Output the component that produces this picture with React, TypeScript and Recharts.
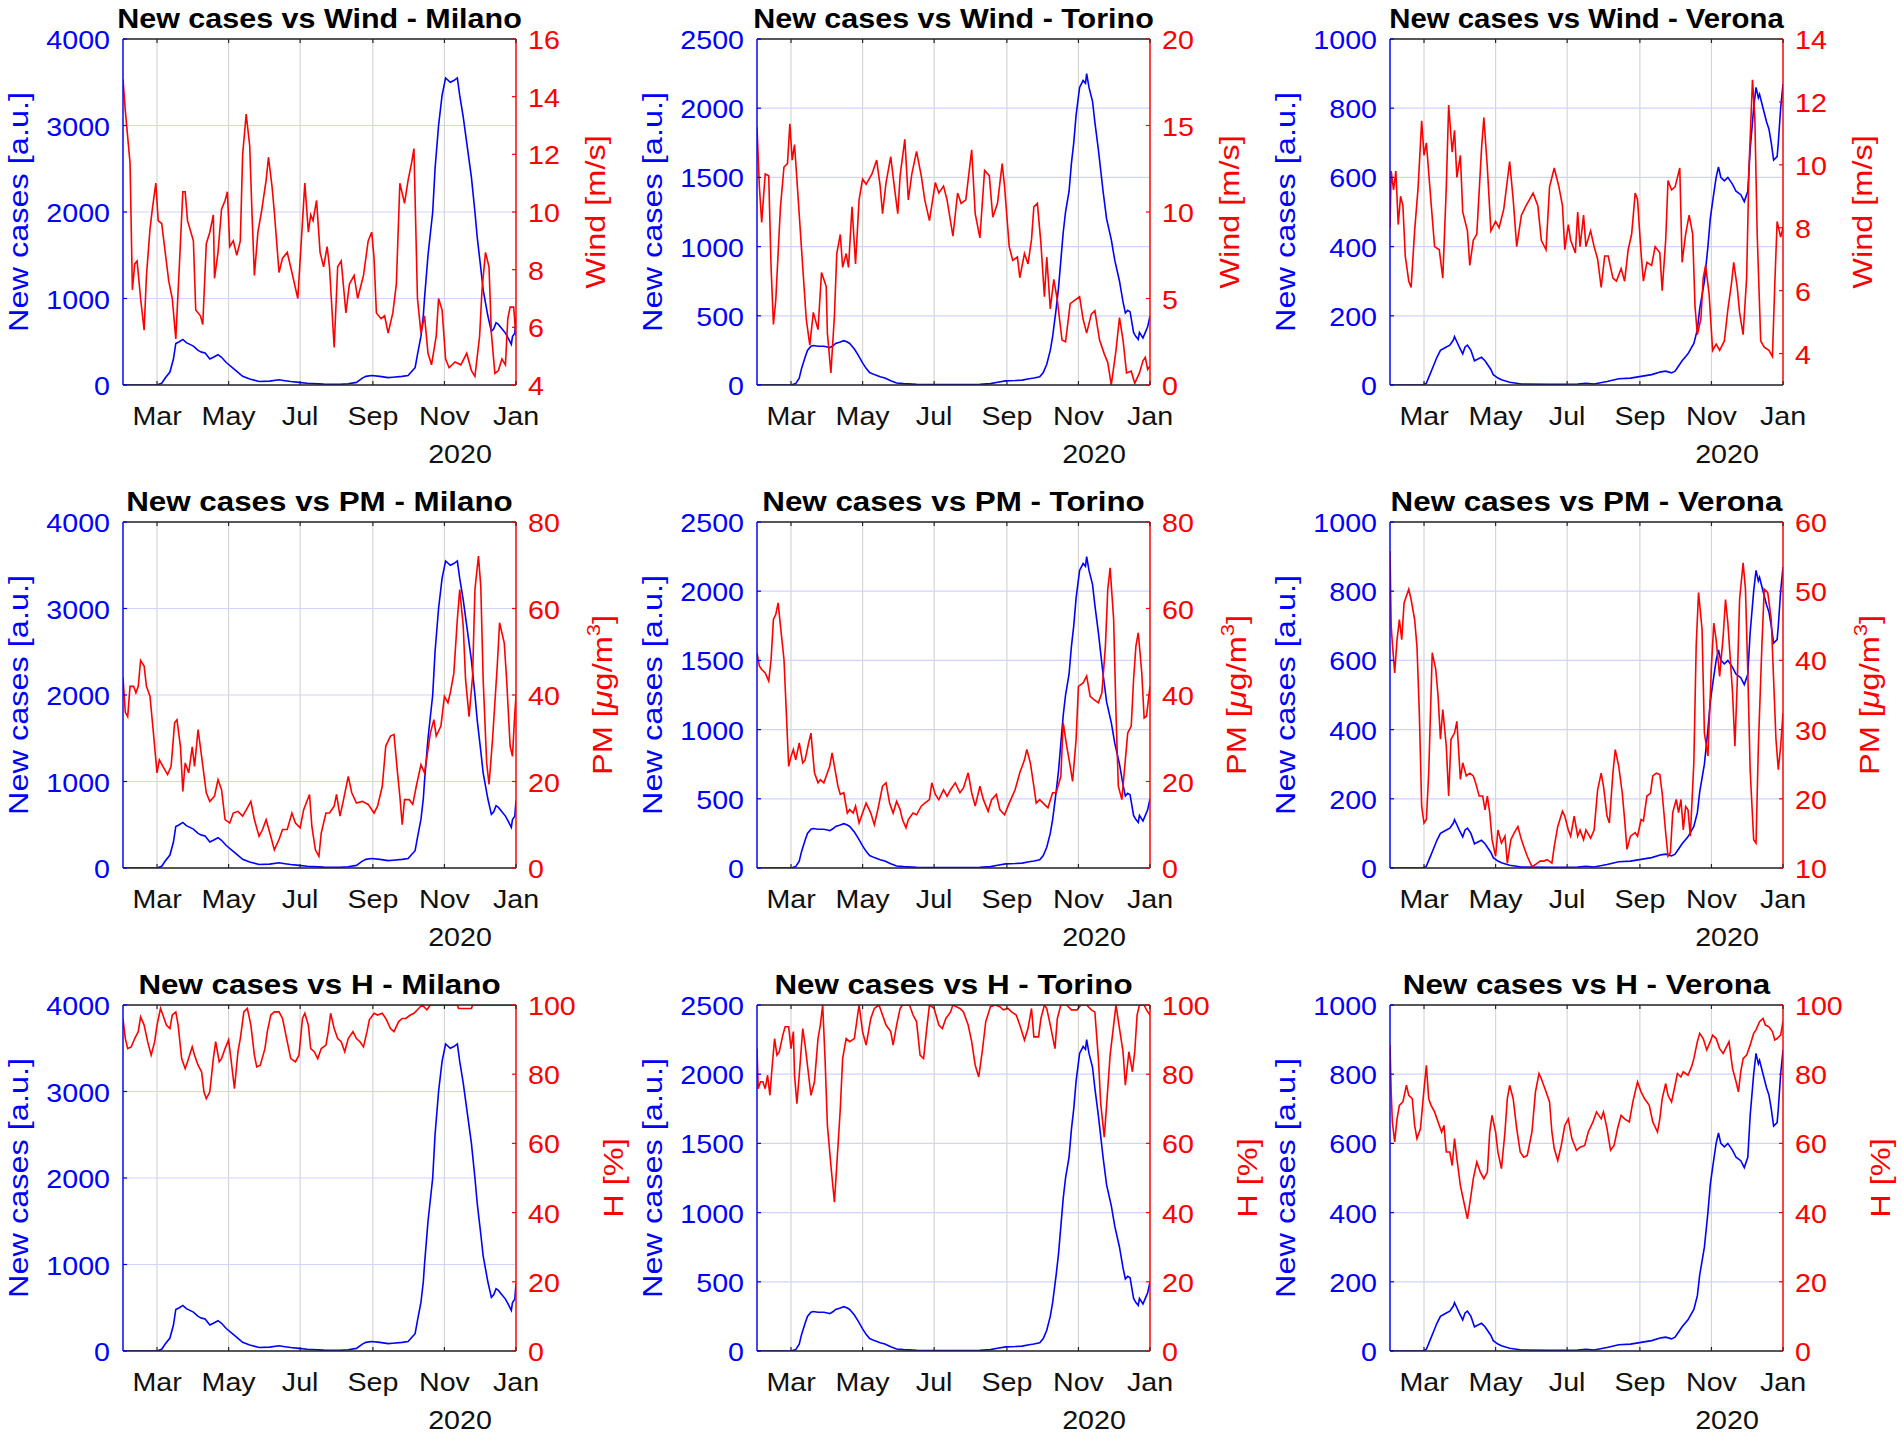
import React from 'react';
import { LineChart, Line, XAxis, YAxis, CartesianGrid } from 'recharts';

type Pair = [number, number];

const FONT = '"Liberation Sans", Arial, Helvetica, sans-serif';
const BLUE = '#0000ff';
const RED = '#ff0000';
const AX = '#262626';
const GRID_GRAY = '#d6d6d6';
const GRID_BLUE = '#d2d2ff';

// x axis: day offset from 1 Feb 2020
const monthTicks = [29, 90, 151, 213, 274, 335];
const monthLabels = ['Mar', 'May', 'Jul', 'Sep', 'Nov', 'Jan'];
const yearLabel = '2020';

// ---------- New cases (same for every row of a city) ----------
const casesMilano: Pair[] = [[0,0],[28,0],[30,5],[33,20],[36,80],[40,150],[43,300],[45,480],[48,500],[51,527],[54,490],[57,470],[60,450],[64,400],[67,380],[70,370],[74,300],[77,320],[81,350],[84,320],[88,260],[95,180],[102,100],[108,70],[116,40],[125,45],[133,60],[138,50],[143,40],[150,30],[157,20],[171,10],[185,8],[192,15],[199,30],[204,80],[207,100],[212,110],[219,100],[226,85],[230,90],[238,100],[243,110],[247,170],[249,200],[251,350],[254,565],[256,800],[257,1000],[260,1500],[264,2000],[266,2500],[269,3000],[272,3350],[275,3550],[279,3500],[282,3520],[285,3550],[287,3350],[290,3100],[292,2900],[297,2400],[300,2000],[302,1700],[305,1350],[307,1100],[309,950],[311,800],[314,620],[316,650],[318,720],[320,700],[323,650],[326,600],[328,550],[331,470],[332,560],[334,600],[335,780]];
const casesTorino: Pair[] = [[0,0],[28,0],[31,5],[33,10],[36,50],[38,120],[41,200],[43,250],[46,280],[48,285],[52,280],[57,280],[60,275],[62,270],[65,285],[67,300],[71,310],[74,320],[77,310],[79,300],[83,260],[86,220],[90,160],[93,120],[96,90],[100,75],[105,60],[109,50],[114,30],[119,15],[125,10],[136,5],[171,3],[190,5],[199,10],[205,20],[212,30],[220,32],[226,35],[232,45],[236,50],[241,60],[244,90],[247,150],[250,250],[252,350],[255,550],[257,700],[259,900],[261,1100],[263,1250],[266,1400],[268,1600],[270,1750],[272,1950],[275,2150],[278,2200],[280,2180],[281,2250],[283,2150],[286,2050],[288,1900],[291,1700],[295,1400],[298,1200],[302,1050],[305,900],[309,750],[312,600],[314,520],[316,540],[318,530],[321,380],[323,350],[325,330],[326,380],[329,340],[331,380],[333,420],[335,500]];
const casesVerona: Pair[] = [[0,0],[28,0],[31,5],[34,30],[37,55],[40,80],[43,100],[48,110],[51,115],[54,130],[55,140],[57,125],[59,110],[62,90],[64,110],[66,115],[69,100],[72,70],[75,75],[78,80],[81,70],[83,60],[86,45],[88,30],[92,20],[95,15],[102,8],[112,3],[136,2],[160,3],[167,5],[174,3],[185,10],[195,18],[205,20],[214,25],[223,30],[231,38],[235,40],[240,35],[243,40],[246,55],[249,70],[254,90],[259,120],[262,160],[264,220],[266,260],[268,300],[271,400],[273,480],[275,530],[278,600],[280,630],[282,600],[285,590],[288,600],[292,580],[295,560],[299,550],[302,530],[305,560],[307,680],[310,800],[312,860],[314,830],[315,840],[318,800],[321,760],[323,740],[325,700],[327,650],[330,660],[331,700],[333,800],[335,870]];

// ---------- Wind [m/s] ----------
const windMilano: Pair[] = [[0,14.6],[2,13.5],[6,11.7],[8,7.3],[10,8.2],[12,8.3],[15,7.0],[18,5.9],[20,7.8],[23,9.4],[25,10.1],[28,11.0],[30,9.7],[33,9.6],[36,8.6],[39,7.6],[42,7.0],[45,5.6],[48,8.1],[51,10.7],[53,10.7],[55,9.7],[60,9.0],[62,6.6],[66,6.4],[68,6.1],[71,8.9],[74,9.3],[77,9.9],[78,7.7],[81,8.6],[84,10.1],[87,10.4],[89,10.7],[91,8.8],[94,9.0],[97,8.5],[100,9.0],[102,12.0],[105,13.4],[108,12.3],[110,9.9],[112,7.8],[115,9.3],[118,10.0],[122,11.1],[124,11.9],[127,10.9],[129,10.0],[133,7.9],[136,8.4],[140,8.6],[144,7.9],[149,7.0],[152,9.0],[155,11.0],[158,9.3],[160,9.9],[162,9.7],[165,10.4],[168,8.6],[171,8.1],[174,8.8],[176,8.1],[180,5.3],[183,8.1],[186,8.3],[190,6.5],[193,7.5],[197,7.8],[200,7.0],[205,7.8],[209,9.0],[212,9.3],[214,8.4],[216,6.5],[220,6.3],[223,6.4],[226,5.8],[230,6.5],[233,7.5],[236,11.0],[240,10.3],[243,11.1],[246,11.7],[248,12.2],[251,7.0],[254,5.8],[257,6.4],[260,5.1],[263,4.7],[267,5.7],[269,7.0],[272,6.6],[275,4.9],[278,4.6],[283,4.8],[288,4.7],[293,5.1],[297,4.5],[300,4.3],[304,5.7],[306,7.3],[309,8.6],[312,8.1],[314,5.8],[317,4.4],[320,4.5],[323,4.9],[326,4.7],[328,6.3],[330,6.7],[333,6.7],[335,5.7]];
const windTorino: Pair[] = [[0,14.9],[2,11.5],[4,9.4],[7,12.2],[10,12.1],[12,6.8],[14,3.5],[16,4.9],[20,10.3],[23,12.6],[26,12.8],[28,15.1],[30,13.0],[32,13.9],[34,11.9],[39,6.8],[42,3.8],[45,2.3],[48,4.2],[52,3.2],[55,6.5],[59,5.7],[60,3.0],[63,0.7],[66,4.0],[68,7.6],[71,8.7],[73,6.8],[76,7.6],[78,6.8],[81,10.3],[84,7.0],[87,10.7],[90,11.9],[93,11.6],[98,12.2],[102,13.0],[105,11.5],[107,9.9],[110,11.7],[114,13.2],[117,11.5],[120,9.9],[122,12.1],[126,14.2],[129,10.7],[132,12.2],[136,13.5],[140,12.1],[143,10.7],[147,9.5],[152,11.7],[155,11.1],[159,11.5],[162,10.7],[167,8.6],[171,11.1],[174,10.5],[178,10.7],[183,13.6],[186,9.9],[190,8.5],[194,12.4],[198,12.1],[201,9.7],[205,10.5],[209,12.8],[211,11.5],[215,8.0],[218,7.2],[222,7.4],[224,6.2],[228,7.6],[231,7.0],[234,8.4],[236,10.3],[239,10.5],[242,8.2],[245,5.1],[247,7.4],[250,4.4],[253,6.1],[256,4.9],[260,2.6],[263,2.5],[267,4.7],[271,4.9],[275,5.1],[278,3.8],[281,3.0],[285,4.1],[288,4.3],[292,2.6],[296,1.8],[299,1.3],[302,0],[306,2.0],[309,3.9],[312,2.6],[315,0.7],[319,0.8],[322,0.1],[326,0.7],[329,1.4],[331,1.6],[333,0.9],[335,1.1]];
const windVerona: Pair[] = [[0,8.0],[1,9.8],[3,9.2],[5,9.8],[7,8.1],[9,9.0],[11,8.7],[13,7.1],[16,6.3],[18,6.1],[21,7.9],[24,9.3],[27,11.4],[29,10.3],[31,10.7],[35,8.8],[38,7.4],[42,7.3],[45,6.4],[48,9.3],[50,11.9],[53,10.4],[55,11.1],[57,9.6],[60,10.3],[62,8.5],[66,7.9],[68,6.8],[71,7.6],[74,7.8],[78,10.5],[80,11.5],[83,9.9],[86,7.9],[90,8.2],[93,8.0],[97,8.6],[99,9.2],[102,10.1],[105,8.9],[108,7.4],[112,8.4],[116,8.7],[119,8.9],[122,9.1],[126,8.7],[129,7.6],[133,7.3],[136,9.3],[140,9.9],[144,9.3],[147,8.7],[149,7.3],[152,8.1],[154,7.6],[158,7.2],[160,8.5],[162,7.4],[165,8.4],[167,7.4],[171,7.9],[174,7.4],[177,7.0],[180,6.1],[183,7.1],[186,7.1],[190,6.4],[193,6.3],[197,6.7],[200,6.3],[203,7.3],[206,7.8],[209,9.1],[211,8.9],[214,7.2],[216,6.3],[219,6.9],[223,6.8],[226,7.4],[230,7.2],[232,6.0],[235,7.6],[237,9.5],[240,9.2],[243,9.3],[247,9.9],[249,6.9],[252,7.8],[255,8.4],[258,7.8],[260,5.5],[262,4.6],[265,5.1],[267,6.4],[269,6.8],[272,5.9],[275,4.1],[278,4.3],[281,4.1],[285,4.4],[288,5.4],[291,6.2],[293,6.9],[296,6.1],[298,5.3],[301,4.6],[304,6.4],[306,9.9],[309,12.7],[311,11.5],[313,7.8],[316,4.4],[319,4.2],[323,4.1],[326,3.9],[328,6.2],[330,8.2],[333,7.7],[335,8.0]];

// ---------- PM [ug/m3] ----------
const pmMilano: Pair[] = [[0,44],[2,36],[4,35],[6,42],[9,42],[11,40.5],[13,42],[15,48],[18,46.7],[20,42],[23,39.7],[26,31],[29,22],[31,25],[34,23.5],[38,21.6],[41,23.5],[44,33.6],[46,34.3],[49,28],[51,17.7],[53,24.3],[56,22],[59,28],[61,23.5],[64,32],[67,25.8],[71,17.4],[74,15.4],[78,16.6],[81,20.4],[84,18.1],[87,11.2],[91,10.4],[94,12.7],[98,13.1],[102,12],[106,13.9],[109,15.4],[112,11.2],[116,7.3],[119,8.9],[122,11.2],[126,7.3],[129,4.2],[133,6.6],[136,8.9],[140,8.9],[144,12.7],[147,10.4],[151,9.3],[154,13.5],[159,17],[161,9.6],[164,4.2],[167,2.7],[169,8.1],[173,12.7],[176,12.7],[180,14.3],[182,17],[185,12],[188,15.8],[192,21.2],[195,17.4],[199,15],[204,15.4],[209,14.7],[214,12.7],[217,14.3],[221,18.9],[224,28.2],[228,30.5],[231,30.9],[234,22],[236,16.6],[238,10],[240,15.8],[244,15.8],[247,14.7],[250,18.9],[254,23.9],[257,22],[260,27.4],[262,31.2],[265,34.3],[267,30.5],[271,32.8],[274,39.7],[277,38.2],[279,40.5],[282,45],[285,57.5],[287,64.4],[290,56],[292,43.6],[295,35],[298,44.4],[300,64.4],[303,72.1],[305,65],[307,43.6],[310,24.3],[312,19.3],[315,29.7],[319,46.7],[321,56.7],[325,52],[327,43.6],[330,28.2],[332,25.8],[334,35.9],[335,39.7]];
const pmTorino: Pair[] = [[0,49.8],[2,46.7],[4,45.9],[7,45.1],[10,43.2],[12,48.2],[14,57.5],[16,58.6],[18,61.3],[20,56],[23,48.2],[25,35.9],[27,23.5],[29,25.8],[31,27.4],[33,25],[36,28.9],[39,24.3],[41,25],[44,28.9],[46,31.2],[49,22],[52,19.7],[54,20.4],[57,19.7],[60,22],[62,23.5],[64,26.6],[67,22],[69,18.9],[71,17],[74,17.4],[77,12.7],[79,13.5],[82,12.7],[84,14.3],[87,10.4],[90,12.7],[93,15],[97,12.7],[100,10],[103,13.5],[107,18.9],[110,19.7],[113,15],[116,12.7],[119,15.4],[122,13.5],[124,11.2],[127,9.3],[129,11.2],[133,12.7],[136,12.3],[140,14.3],[143,15],[147,15.8],[149,19.7],[152,17],[155,15.8],[159,18.1],[162,16.6],[165,18.1],[169,19.7],[173,17.4],[176,18.5],[180,22],[183,17.4],[186,14.3],[190,18.9],[193,15.8],[197,13.1],[200,15.8],[204,17],[207,13.5],[211,12.3],[215,15],[220,18.1],[224,22],[228,25],[230,27.4],[233,24.3],[236,18.9],[238,15],[241,15.8],[245,14.7],[248,13.9],[252,17.4],[255,17.4],[259,21.2],[261,33.6],[264,28.2],[267,23.5],[269,20],[272,29.7],[274,42],[278,42.8],[281,44.4],[284,39.7],[287,39],[291,38.2],[294,40.5],[297,51.3],[299,64.4],[301,69.4],[304,57.5],[306,35.9],[308,18.9],[311,15.8],[313,22],[316,31.2],[319,32.8],[321,43.6],[323,51.3],[325,54.4],[328,45.1],[330,34.7],[332,35.1],[335,42]];
const pmVerona: Pair[] = [[0,55.8],[1,45],[2,42.5],[4,38.2],[6,43],[8,45.9],[10,43],[12,48.3],[14,49.3],[16,50.3],[18,48.8],[21,45.9],[23,42],[25,32.4],[27,18.9],[29,16.5],[31,17],[33,23.7],[36,41.1],[39,38.7],[41,34.8],[43,28.6],[45,32.9],[48,27.6],[50,20.4],[52,28.6],[55,29.5],[57,31.2],[60,22.8],[62,25.2],[65,23.3],[68,23.7],[71,23.3],[73,22.3],[76,20.4],[79,20.4],[81,18.4],[83,20.4],[85,18],[87,14.1],[90,11.7],[92,15.5],[95,13.6],[98,14.6],[100,10.7],[103,14.1],[106,15.1],[109,16],[112,14.1],[114,13.1],[117,11.7],[121,10.2],[124,10.5],[128,11],[131,11],[134,11.2],[138,10.7],[140,13.1],[143,16],[147,18.2],[149,17.5],[152,15.5],[154,14.6],[157,17.5],[160,14.6],[162,15.5],[165,14.1],[167,15.5],[171,14.3],[174,15.5],[177,21.3],[180,23.7],[182,21.8],[185,17.5],[187,16.5],[190,23.7],[192,27.1],[195,24.7],[198,20.8],[200,17],[202,12.7],[205,14.6],[209,15.1],[211,14.6],[214,17],[216,16.8],[219,20.4],[222,20.8],[224,23.3],[227,23.7],[230,23.5],[232,20.8],[235,15.1],[237,11.7],[239,12.2],[241,18],[244,19.9],[246,18],[248,19.9],[250,15.5],[252,18.9],[254,18.4],[256,14.6],[259,25.2],[261,42.1],[263,49.8],[266,44.5],[268,29.5],[271,26.2],[274,39.2],[276,45.4],[278,43],[281,37.7],[284,43.5],[286,48.8],[288,45.4],[292,35.3],[294,27.6],[296,36.8],[298,48.8],[301,54.1],[303,50.3],[305,38.2],[307,24.2],[310,14.1],[312,13.6],[314,27.6],[317,42.1],[319,50.3],[322,49.8],[325,45.9],[327,37.2],[329,28.6],[331,24.2],[333,27.6],[335,32.4]];

// ---------- H [%] ----------
const hMilano: Pair[] = [[0,96],[2,90.3],[4,87.4],[7,87.9],[10,90.3],[13,92.3],[15,96.6],[18,94.2],[21,89.4],[24,85.5],[27,89.4],[29,94.2],[32,99],[34,97.1],[37,94.2],[40,93.2],[42,97.1],[45,98],[47,94.2],[50,84.5],[53,81.6],[55,83.6],[59,87.9],[61,85.5],[64,82.6],[67,80.7],[69,74.9],[71,72.9],[74,74.9],[77,84.5],[79,89.4],[82,83.6],[84,84.5],[87,87.4],[90,89.9],[92,84.5],[95,75.8],[98,86.5],[100,90.3],[103,98],[106,99],[109,94.2],[112,85.5],[114,82.1],[117,82.6],[121,87.4],[123,92.3],[126,97.1],[129,98],[133,98],[136,96.1],[140,89.4],[143,84.5],[147,83.6],[150,85.5],[153,96.1],[155,97.6],[158,94.2],[160,87.4],[163,86.5],[166,84.5],[169,87.4],[173,88.4],[175,92.3],[177,97.6],[180,93.2],[183,90.3],[186,89.4],[189,86.5],[192,90.3],[196,92.3],[199,90.3],[202,89.4],[205,87.9],[208,92.3],[210,95.7],[214,97.6],[217,97.1],[221,97.6],[224,96.1],[228,93.2],[231,92.3],[235,95.2],[238,96.1],[241,96.1],[245,97.1],[248,97.6],[252,99],[255,100],[259,98.6],[262,100],[285,100],[286,99],[297,99],[298,100],[335,100]];
const hTorino: Pair[] = [[0,87.4],[1,75.8],[3,77.8],[5,77.8],[7,75.8],[9,79.7],[11,73.9],[13,82.6],[15,90.3],[17,85.5],[19,86.5],[22,91.3],[24,93.7],[27,93.7],[29,87.4],[31,92.3],[32,79.7],[34,71.5],[36,79.7],[39,93.2],[41,88.4],[44,79.7],[46,73.9],[49,77.8],[52,90.3],[54,94.2],[56,100],[58,84.5],[60,65.2],[63,53.6],[66,43],[68,53.6],[71,70],[73,84.5],[76,90.3],[79,89.4],[83,90.3],[85,95.2],[87,100],[90,92.3],[93,88.4],[97,96.1],[100,99],[104,100],[107,97.1],[110,94.2],[114,92.3],[116,88.4],[119,94.2],[122,99],[124,100],[130,100],[133,97.1],[136,95.2],[139,85.5],[142,84.5],[145,94.2],[147,100],[151,99],[155,94.2],[158,93.2],[161,96.1],[165,98],[167,100],[173,99],[176,98],[180,94.2],[183,89.4],[186,82.6],[189,79.2],[192,86.5],[195,95.2],[199,99.5],[203,100],[207,99.5],[210,98.6],[214,99],[217,98],[221,97.1],[224,94.2],[228,89.9],[231,93.2],[234,99],[236,90.8],[240,90.8],[242,96.1],[245,100],[247,99],[250,94.2],[254,87.4],[256,96.1],[259,100],[264,100],[268,98.6],[273,98.6],[276,100],[281,100],[285,98.6],[288,98],[291,84.5],[293,71.5],[296,61.8],[298,71],[301,85.5],[304,94.2],[306,100],[309,93.2],[312,86.5],[314,76.8],[317,86.5],[320,80.7],[322,86.5],[324,97.1],[326,100],[330,100],[332,98.6],[335,97.1]];
const hVerona: Pair[] = [[0,88.4],[1,74.9],[2,66.2],[4,60.4],[6,67.1],[8,71],[11,72],[14,76.8],[16,73.9],[19,72.9],[21,65.2],[23,61.4],[26,64.3],[28,72],[31,82.6],[33,72.9],[35,71],[38,69.1],[41,66.2],[44,63.3],[46,65.2],[48,57.5],[51,57.5],[53,53.6],[55,61.4],[57,55.6],[60,47.8],[63,43],[66,38.2],[69,44.9],[71,49.8],[74,54.6],[77,51.7],[80,49.8],[83,51.7],[85,63.3],[87,68.1],[90,63.3],[92,57.5],[95,52.7],[98,63.3],[100,72.9],[102,76.8],[105,72.9],[108,64.3],[111,57.5],[114,56],[117,56.5],[121,63.3],[124,74.9],[127,80.2],[129,78.7],[133,74.9],[136,72],[138,63.3],[140,58.5],[143,55],[146,59.4],[149,65.2],[152,67.1],[155,61.4],[159,58],[162,58.9],[166,59.4],[169,63.3],[173,66.2],[176,69.1],[180,67.1],[182,69.1],[185,64.3],[188,58],[191,59.4],[194,64.3],[197,68.1],[200,67.1],[204,66.2],[207,72],[211,77.8],[214,74.9],[217,72.9],[221,71],[224,66.2],[228,63.3],[230,67.1],[232,72.9],[235,77.3],[237,73.9],[240,72],[243,76.8],[245,80.2],[248,79.2],[250,80.7],[254,79.7],[257,82.1],[259,84.5],[262,89.4],[264,91.8],[267,90.3],[270,87],[273,89.4],[275,91.3],[278,90.3],[281,87.4],[284,86],[286,87.4],[289,89.4],[292,81.6],[295,77.8],[297,74.9],[299,80.7],[301,84.5],[304,85.5],[307,88.4],[310,91.8],[312,92.8],[315,95.2],[318,96.1],[320,94.2],[323,93.7],[326,92.3],[328,89.9],[330,90.3],[333,91.3],[335,95.2]];

// ---------- axis ticks ----------
const casesTicksMilano = [0, 1000, 2000, 3000, 4000];
const casesTicksTorino = [0, 500, 1000, 1500, 2000, 2500];
const casesTicksVerona = [0, 200, 400, 600, 800, 1000];
const windTicksMilano = [4, 6, 8, 10, 12, 14, 16];
const windTicksTorino = [0, 5, 10, 15, 20];
const windTicksVerona = [4, 6, 8, 10, 12, 14];
const pmTicks = [0, 20, 40, 60, 80];
const pmTicksVerona = [10, 20, 30, 40, 50, 60];
const hTicks = [0, 20, 40, 60, 80, 100];

// ---------- layout ----------
const CH_W = 634;
const CH_H = 472;
const PLOT_LEFT = 123;
const PLOT_W = 393;
const PLOT_TOP = 39;
const PLOT_H = 346;
const RIGHT_W = CH_W - PLOT_LEFT - PLOT_W;
const BOTTOM_H = CH_H - PLOT_TOP - PLOT_H;
const colLefts = [0, 634, 1267];
const rowTops = [0, 483, 966];

const TICK_FS = 26.5;
const TICK_SX = 1.08;
const LABEL_FS = 28;
const LABEL_SX = 1.16;
const TITLE_FS = 28.5;
const TITLE_SX = 1.1;

type EnvKind = 'wind' | 'pm' | 'h';

interface Spec {
  title: string;
  titleSx?: number;
  cases: Pair[];
  casesTicks: number[];
  env: Pair[];
  envTicks: number[];
  envDomain: [number, number];
  kind: EnvKind;
}

const specs: Spec[][] = [
  [
    { title: 'New cases vs Wind - Milano', titleSx: 1.07, cases: casesMilano, casesTicks: casesTicksMilano, env: windMilano, envTicks: windTicksMilano, envDomain: [4, 16], kind: 'wind' },
    { title: 'New cases vs Wind - Torino', titleSx: 1.07, cases: casesTorino, casesTicks: casesTicksTorino, env: windTorino, envTicks: windTicksTorino, envDomain: [0, 20], kind: 'wind' },
    { title: 'New cases vs Wind - Verona', titleSx: 1.03, cases: casesVerona, casesTicks: casesTicksVerona, env: windVerona, envTicks: windTicksVerona, envDomain: [3, 14], kind: 'wind' },
  ],
  [
    { title: 'New cases vs PM - Milano', cases: casesMilano, casesTicks: casesTicksMilano, env: pmMilano, envTicks: pmTicks, envDomain: [0, 80], kind: 'pm' },
    { title: 'New cases vs PM - Torino', cases: casesTorino, casesTicks: casesTicksTorino, env: pmTorino, envTicks: pmTicks, envDomain: [0, 80], kind: 'pm' },
    { title: 'New cases vs PM - Verona', cases: casesVerona, casesTicks: casesTicksVerona, env: pmVerona, envTicks: pmTicksVerona, envDomain: [10, 60], kind: 'pm' },
  ],
  [
    { title: 'New cases vs H - Milano', cases: casesMilano, casesTicks: casesTicksMilano, env: hMilano, envTicks: hTicks, envDomain: [0, 100], kind: 'h' },
    { title: 'New cases vs H - Torino', cases: casesTorino, casesTicks: casesTicksTorino, env: hTorino, envTicks: hTicks, envDomain: [0, 100], kind: 'h' },
    { title: 'New cases vs H - Verona', cases: casesVerona, casesTicks: casesTicksVerona, env: hVerona, envTicks: hTicks, envDomain: [0, 100], kind: 'h' },
  ],
];

const toRows = (p: Pair[]) => p.map(([d, v]) => ({ d, v }));

const BottomTick = (props: any) => {
  const { x, y, payload } = props;
  const i = monthTicks.indexOf(payload.value);
  return (
    <g>
      <line x1={x} x2={x} y1={y} y2={y - 4} stroke={AX} strokeWidth={1.2} />
      <line x1={x} x2={x} y1={PLOT_TOP} y2={PLOT_TOP + 4} stroke={AX} strokeWidth={1.2} />
      <text transform={`translate(${x},${y + 40}) scale(${TICK_SX},1)`} textAnchor="middle" fontFamily={FONT} fontSize={TICK_FS} fill="#111">
        {i >= 0 ? monthLabels[i] : ''}
      </text>
    </g>
  );
};

const LeftTick = (props: any) => {
  const { x, y, payload } = props;
  return (
    <g>
      <line x1={x} x2={x + 4} y1={y} y2={y} stroke={BLUE} strokeWidth={1.2} />
      <text transform={`translate(${x - 13},${y + 10}) scale(${TICK_SX},1)`} textAnchor="end" fontFamily={FONT} fontSize={TICK_FS} fill={BLUE}>
        {String(payload.value)}
      </text>
    </g>
  );
};

const RightTick = (props: any) => {
  const { x, y, payload } = props;
  return (
    <g>
      <line x1={x} x2={x - 4} y1={y} y2={y} stroke={RED} strokeWidth={1.2} />
      <text transform={`translate(${x + 12},${y + 10}) scale(${TICK_SX},1)`} textAnchor="start" fontFamily={FONT} fontSize={TICK_FS} fill={RED}>
        {String(payload.value)}
      </text>
    </g>
  );
};

const vLabel = (bx: number, content: React.ReactNode, color: string) => (
  <text
    transform={`translate(${bx},${PLOT_TOP + PLOT_H / 2}) rotate(-90) scale(${LABEL_SX},1)`}
    textAnchor="middle"
    fontFamily={FONT}
    fontSize={LABEL_FS}
    fill={color}
  >
    {content}
  </text>
);

const envLabelContent = (kind: EnvKind) => {
  const right = PLOT_LEFT + PLOT_W;
  if (kind === 'wind') return vLabel(right + 89, 'Wind [m/s]', RED);
  if (kind === 'h') return vLabel(right + 107, 'H [%]', RED);
  return vLabel(
    right + 96,
    <>
      <tspan>PM [</tspan>
      <tspan fontStyle="italic">μ</tspan>
      <tspan>g/m</tspan>
      <tspan dy={-12} fontSize={19}>3</tspan>
      <tspan dy={12}>]</tspan>
    </>,
    RED,
  );
};

const Panel = ({ spec, left, top }: { spec: Spec; left: number; top: number }) => {
  const casesRows = toRows(spec.cases);
  const envRows = toRows(spec.env);
  const cMax = spec.casesTicks[spec.casesTicks.length - 1];
  const tsx = spec.titleSx ?? TITLE_SX;
  return (
    <div style={{ position: 'absolute', left, top, width: CH_W, height: CH_H }}>
      <LineChart width={CH_W} height={CH_H} margin={{ top: PLOT_TOP, right: 0, bottom: 0, left: 0 }}>
        <CartesianGrid xAxisId="b" yAxisId="L" horizontal={false} stroke={GRID_GRAY} strokeWidth={1.2} />
        <CartesianGrid xAxisId="b" yAxisId="L" vertical={false} stroke={GRID_BLUE} strokeWidth={1.2} />
        <XAxis
          xAxisId="b"
          dataKey="d"
          type="number"
          domain={[0, 335]}
          allowDataOverflow
          ticks={monthTicks}
          interval={0}
          height={BOTTOM_H}
          tickSize={0}
          tickMargin={0}
          tickLine={false}
          tick={(p: any) => <BottomTick {...p} />}
          axisLine={{ stroke: AX, strokeWidth: 1.4 }}
          label={() => (
            <g>
              <text
                transform={`translate(${PLOT_LEFT + PLOT_W - 56},${PLOT_TOP + PLOT_H + 78}) scale(${TICK_SX},1)`}
                textAnchor="middle"
                fontFamily={FONT}
                fontSize={TICK_FS}
                fill="#111"
              >
                {yearLabel}
              </text>
              <line x1={PLOT_LEFT} x2={PLOT_LEFT + PLOT_W} y1={PLOT_TOP} y2={PLOT_TOP} stroke={AX} strokeWidth={1.4} />
              <text
                transform={`translate(${PLOT_LEFT + PLOT_W / 2},${PLOT_TOP - 11}) scale(${tsx},1)`}
                textAnchor="middle"
                fontFamily={FONT}
                fontSize={TITLE_FS}
                fontWeight={700}
                fill="#000"
              >
                {spec.title}
              </text>
            </g>
          )}
        />
        <YAxis
          yAxisId="L"
          orientation="left"
          type="number"
          width={PLOT_LEFT}
          domain={[0, cMax]}
          allowDataOverflow
          ticks={spec.casesTicks}
          interval={0}
          tickSize={0}
          tickMargin={0}
          tickLine={false}
          tick={(p: any) => <LeftTick {...p} />}
          axisLine={{ stroke: BLUE, strokeWidth: 1.4 }}
          label={() => vLabel(PLOT_LEFT - 95, 'New cases [a.u.]', BLUE)}
        />
        <YAxis
          yAxisId="R"
          orientation="right"
          type="number"
          width={RIGHT_W}
          domain={spec.envDomain}
          allowDataOverflow
          ticks={spec.envTicks}
          interval={0}
          tickSize={0}
          tickMargin={0}
          tickLine={false}
          tick={(p: any) => <RightTick {...p} />}
          axisLine={{ stroke: RED, strokeWidth: 1.4 }}
          label={() => envLabelContent(spec.kind)}
        />
        <Line
          xAxisId="b"
          yAxisId="L"
          data={casesRows}
          dataKey="v"
          type="linear"
          stroke={BLUE}
          strokeWidth={1.6}
          dot={false}
          activeDot={false}
          isAnimationActive={false}
        />
        <Line
          xAxisId="b"
          yAxisId="R"
          data={envRows}
          dataKey="v"
          type="linear"
          stroke={RED}
          strokeWidth={1.6}
          dot={false}
          activeDot={false}
          isAnimationActive={false}
        />
      </LineChart>
    </div>
  );
}

export default function App() {
  return (
    <div style={{ position: 'absolute', left: 0, top: 0, width: 1902, height: 1437, background: '#fff', overflow: 'hidden' }}>
      {specs.map((row, r) =>
        row.map((spec, c) => <Panel key={`${r}-${c}`} spec={spec} left={colLefts[c]} top={rowTops[r]} />),
      )}
    </div>
  );
}
